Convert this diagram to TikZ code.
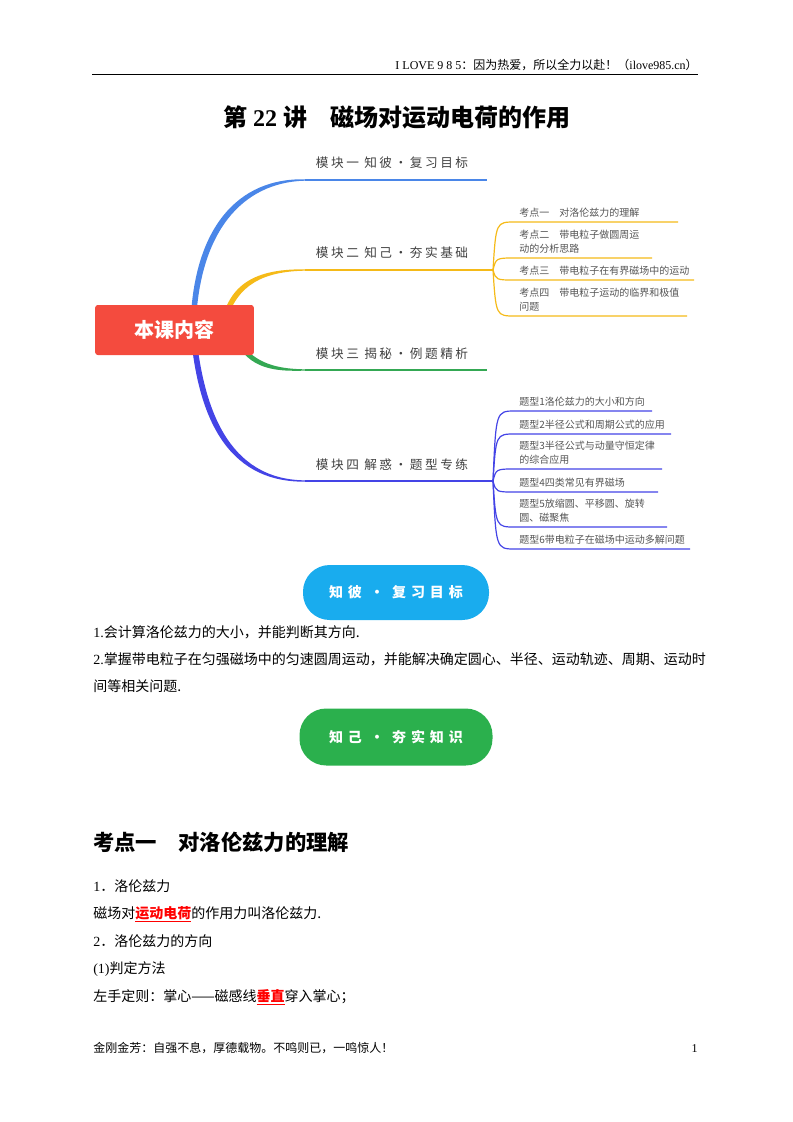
\documentclass[tikz,border=0pt]{standalone}
\usepackage{fontspec}
\setmainfont{Liberation Serif}
\newfontfamily\cjk{Noto Sans CJK SC}
\newfontfamily\hand[LetterSpace=20]{Noto Sans CJK SC}
\newfontfamily\pillfont[LetterSpace=35]{Noto Sans CJK SC}
\usetikzlibrary{positioning, calc}

\definecolor{mapred}{HTML}{F44B3E}
\definecolor{mapblue}{HTML}{4A86E8}
\definecolor{mapyellow}{HTML}{F5BA18}
\definecolor{mapgreen}{HTML}{34A853}
\definecolor{mapindigo}{HTML}{4444E6}
\definecolor{pillblue}{HTML}{19ACEE}
\definecolor{pillgreen}{HTML}{2BB04D}
\definecolor{leafgray}{HTML}{555555}

\tikzset{
  pagetext/.style={inner sep=0pt, font=\fontsize{9}{11}\selectfont},
  hub/.style={fill=mapred, rounded corners=2pt, minimum width=119pt, minimum height=37.5pt,
    text=white, font=\cjk\bfseries\fontsize{15}{18}\selectfont},
  branchlabel/.style={inner sep=0pt, text=black!75, font=\hand\fontsize{9.5}{11}\selectfont},
  leaf/.style={anchor=south west, inner sep=0pt, align=left, text=leafgray,
    font=\cjk\fontsize{7.5}{10.5}\selectfont},
  pill/.style={rounded corners=20pt, text=white, font=\pillfont\bfseries\fontsize{10.5}{12}\selectfont},
  body/.style={anchor=base west, inner sep=0pt, font=\cjk\fontsize{10.5}{14}\selectfont},
  item/.style={anchor=base west, inner sep=0pt, font=\cjk\fontsize{10.5}{13}\selectfont},
}

\begin{document}
\begin{tikzpicture}[x=0.75pt, y=-0.75pt]
\useasboundingbox (0,0) rectangle (793,1122);

    % header and title
    \node[pagetext, anchor=base east] (head) at (698,69.5)
        {I LOVE 9 8 5{\cjk ：因为热爱，所以全力以赴！（}ilove985.cn{\cjk ）}};
    \draw[line width=0.75pt] (92,74) -- (698,74);
    \node[anchor=base, inner sep=0pt, font=\bfseries\fontsize{18}{20}\selectfont] (title) at (397,126)
        {{\cjk 第}\ 22\ {\cjk 讲\quad 磁场对运动电荷的作用}};

    % trunk of the mind map
    \coordinate (trunk) at (193,330);
    \coordinate (yroot) at (224,322);
    \coordinate (groot) at (240,345);
    \coordinate (m1) at (305,180);
    \coordinate (m2) at (305,270);
    \coordinate (m3) at (305,370);
    \coordinate (m4) at (305,481);
    \coordinate (yj) at (493,270);
    \coordinate (bj) at (493,481);

    % module 1 (blue, top)
    \fill[mapblue] ([xshift=-2pt]trunk) .. controls (192,228) and (238,177.6) .. ([yshift=0.5pt]m1)
        -- ([yshift=-0.5pt]m1) .. controls (242,182.4) and (198,232) .. ([xshift=2pt]trunk) -- cycle;
    \draw[mapblue, line width=1pt] (m1) -- (487,180);
    \node[branchlabel] (lab1) at (392,163) {模块一 知彼·复习目标};

    % module 2 (yellow)
    \fill[mapyellow] ([xshift=-1.7pt]yroot) .. controls (230,281) and (260,268.8) .. ([yshift=0.5pt]m2)
        -- ([yshift=-0.5pt]m2) .. controls (264,271.5) and (237,284) .. ([xshift=1.7pt]yroot) -- cycle;
    \draw[mapyellow, line width=1pt] (m2) -- (yj);
    \node[branchlabel] (lab2) at (392,253) {模块二 知己·夯实基础};

    % module 3 (green)
    \fill[mapgreen] ([xshift=-1.7pt]groot) .. controls (253,371) and (280,371.2) .. ([yshift=-0.5pt]m3)
        -- ([yshift=0.5pt]m3) .. controls (282,368.8) and (259,366) .. ([xshift=1.7pt]groot) -- cycle;
    \draw[mapgreen, line width=1pt] (m3) -- (487,370);
    \node[branchlabel] (lab3) at (392,354) {模块三 揭秘·例题精析};

    % module 4 (indigo, bottom)
    \fill[mapindigo] ([xshift=-2pt]trunk) .. controls (197,412) and (224,482.4) .. ([yshift=-0.5pt]m4)
        -- ([yshift=0.5pt]m4) .. controls (228,479.6) and (203,408) .. ([xshift=2pt]trunk) -- cycle;
    \draw[mapindigo, line width=1pt] (m4) -- (bj);
    \node[branchlabel] (lab4) at (392,465) {模块四 解惑·题型专练};

    % centre box
    \node[hub] (centre) at (174.5,330) {本课内容};

    % points of module 2
    \foreach \y/\xe in {222/678, 258/652, 280/694, 316/687}
        \draw[mapyellow, line width=0.9pt] (yj) .. controls (496,\y) .. (515,\y) -- (\xe,\y);
    \node[leaf] (k1) at (519,218) {考点一　对洛伦兹力的理解};
    \node[leaf] (k2) at (519,254) {考点二　带电粒子做圆周运\\动的分析思路};
    \node[leaf] (k3) at (519,276) {考点三　带电粒子在有界磁场中的运动};
    \node[leaf] (k4) at (519,312) {考点四　带电粒子运动的临界和极值\\问题};

    % types of module 4
    \foreach \y/\xe in {411/652, 434/671, 469/662, 492/658, 527/667, 549/690}
        \draw[mapindigo, line width=0.9pt] (bj) .. controls (496,\y) .. (515,\y) -- (\xe,\y);
    \node[leaf] (t1) at (519,407) {题型1洛伦兹力的大小和方向};
    \node[leaf] (t2) at (519,430) {题型2半径公式和周期公式的应用};
    \node[leaf] (t3) at (519,465) {题型3半径公式与动量守恒定律\\的综合应用};
    \node[leaf] (t4) at (519,488) {题型4四类常见有界磁场};
    \node[leaf] (t5) at (519,523) {题型5放缩圆、平移圆、旋转\\圆、磁聚焦};
    \node[leaf] (t6) at (519,545) {题型6带电粒子在磁场中运动多解问题};

    % goals
    \node[pill, fill=pillblue, minimum width=139.5pt, minimum height=41.25pt] (goal) at (396,592.5)
        {知彼 · 复习目标};
    \node[body] (g1) at (93,637) {{\rmfamily 1.}会计算洛伦兹力的大小，并能判断其方向.};
    \node[body] (g2) at (93,664)
        {{\rmfamily 2.}掌握带电粒子在匀强磁场中的匀速圆周运动，并能解决确定圆心、半径、运动轨迹、周期、运动时};
    \node[body] (g3) at (93,691) {间等相关问题.};

    % basics
    \node[pill, fill=pillgreen, minimum width=144.75pt, minimum height=42.75pt] (basics) at (396,737)
        {知己 · 夯实知识};

    % point 1
    \node[anchor=base west, inner sep=0pt, font=\cjk\bfseries\fontsize{16}{19}\selectfont] (sec1) at (93,850)
        {考点一\quad 对洛伦兹力的理解};
    \node[item] (i1) at (93,891) {{\rmfamily 1}．洛伦兹力};
    \node[item] (i2) at (93,918)
        {磁场对\textcolor{red}{\bfseries\underline{运动电荷}}的作用力叫洛伦兹力.};
    \node[item] (i3) at (93,946) {{\rmfamily 2}．洛伦兹力的方向};
    \node[item] (i4) at (93,973) {{\rmfamily (1)}判定方法};
    \node[item] (i5) at (93,1001)
        {左手定则：掌心——磁感线\textcolor{red}{\bfseries\underline{垂直}}穿入掌心；};

    % footer
    \node[pagetext, anchor=base west, font=\cjk\fontsize{9}{11}\selectfont] (foot) at (93,1052.5)
        {金刚金芳：自强不息，厚德载物。不鸣则已，一鸣惊人！};
    \node[pagetext, anchor=base east] (page) at (698,1052.5) {1};

\end{tikzpicture}
\end{document}
